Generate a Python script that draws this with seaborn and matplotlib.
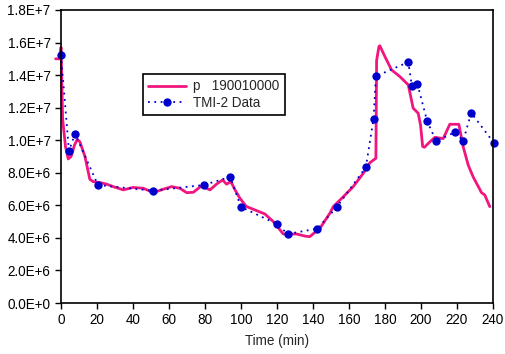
import pandas as pd
import matplotlib
matplotlib.use("Agg")
import matplotlib.pyplot as plt
import seaborn as sns

# model curve, p 190010000
model_time = [-3, -0.5, 0, 0.9, 2.5, 4, 5.6, 7.5, 9, 10.5, 13.3, 16, 18, 21.7, 25.4, 29,
              34.6, 40, 45.7, 51.3, 56.8, 61.5, 66, 69.8, 73.5, 78, 82.8, 86.5, 89.8, 92,
              94.4, 96.7, 99.4, 103, 106.8, 113.3, 118, 121.7, 123.5, 130.9, 136, 138.3,
              140, 143.9, 149.4, 151.3, 156.9, 162.4, 168, 171.7, 175, 175.4, 176.7, 177.2,
              180, 183.7, 188.3, 193, 195.7, 198.5, 199.8, 201, 202, 205, 207.8, 212.4,
              216.1, 221.1, 223.5, 226.3, 229, 233.7, 235.5, 238.3]
model_p = [15.0, 15.0, 15.7, 11.3, 9.6, 8.85, 9.0, 9.7, 10.05, 9.9, 9.0, 7.6, 7.45, 7.4,
           7.3, 7.15, 6.95, 7.1, 7.05, 6.78, 6.99, 7.15, 7.05, 6.78, 6.8, 7.19, 6.95, 7.31,
           7.56, 7.3, 7.46, 6.95, 6.44, 5.93, 5.76, 5.47, 5.0, 4.49, 4.24, 4.24, 4.1, 4.08,
           4.24, 4.59, 5.51, 5.92, 6.53, 7.15, 7.97, 8.62, 8.89, 14.9, 15.76, 15.8, 15.14,
           14.32, 13.91, 13.4, 11.97, 11.66, 10.94, 9.61, 9.57, 9.9, 10.18, 10.1, 10.98,
           10.98, 9.61, 8.48, 7.76, 6.78, 6.64, 5.92]

# measured data
tmi_time = [0, 4.4, 7.8, 20.5, 51, 79.4, 94, 100, 120, 126, 142.4, 153.2, 169.4, 173.7,
            175, 193, 195, 198, 203.5, 208.5, 219, 223.5, 228, 240.5]
tmi_p = [15.24, 9.34, 10.4, 7.25, 6.9, 7.25, 7.75, 5.9, 4.85, 4.24, 4.57, 5.88, 8.34,
         11.3, 13.93, 14.8, 13.34, 13.48, 11.17, 9.94, 10.5, 9.96, 11.68, 9.85]

model = pd.DataFrame({"t": model_time, "p": [v * 1e6 for v in model_p]})
tmi = pd.DataFrame({"t": tmi_time, "p": [v * 1e6 for v in tmi_p]})

sns.set_style("ticks")
plt.rcParams["font.family"] = ["Liberation Sans", "DejaVu Sans"]
plt.rcParams["font.size"] = 9.75

fig, ax = plt.subplots(figsize=(5.06, 3.54), dpi=100)
fig.subplots_adjust(left=0.1206, right=0.974, top=0.9718, bottom=0.144)

sns.lineplot(data=model, x="t", y="p", sort=False, ax=ax, color="#F0157F",
             linewidth=2, label="p   190010000")
sns.lineplot(data=tmi, x="t", y="p", sort=False, ax=ax, color="#0000CC",
             linewidth=1.3, dashes=False, marker="o", markersize=6,
             markeredgewidth=0, label="TMI-2 Data")
ax.lines[1].set_dashes((1, 2.5))
for ln in ax.lines:
    ln.set_clip_on(False)

ax.set_xlim(0, 240)
ax.set_ylim(0, 1.8e7)
ax.set_xticks(range(0, 241, 20))
ax.set_yticks([i * 2e6 for i in range(10)])
ax.set_yticklabels(["0.0E+0", "2.0E+6", "4.0E+6", "6.0E+6", "8.0E+6",
                    "1.0E+7", "1.2E+7", "1.4E+7", "1.6E+7", "1.8E+7"])
ax.set_xlabel("Time (min)", labelpad=5)
ax.set_ylabel("")
for s in ax.spines.values():
    s.set_visible(True)
    s.set_color("black")
    s.set_linewidth(1.2)
ax.tick_params(direction="out", length=4, width=1, colors="black", labelsize=9.75)

leg = ax.legend(loc="upper left", bbox_to_anchor=(0.19, 0.782), borderaxespad=0,
                frameon=True, fancybox=False, edgecolor="black", framealpha=1,
                handlelength=2.8, handletextpad=0.5, borderpad=0.4,
                labelspacing=0.2, fontsize=9.75)
leg.get_frame().set_linewidth(1.2)
leg.get_lines()[1].set_dashes((1, 2.5))

plt.savefig("out.png", dpi=100)
